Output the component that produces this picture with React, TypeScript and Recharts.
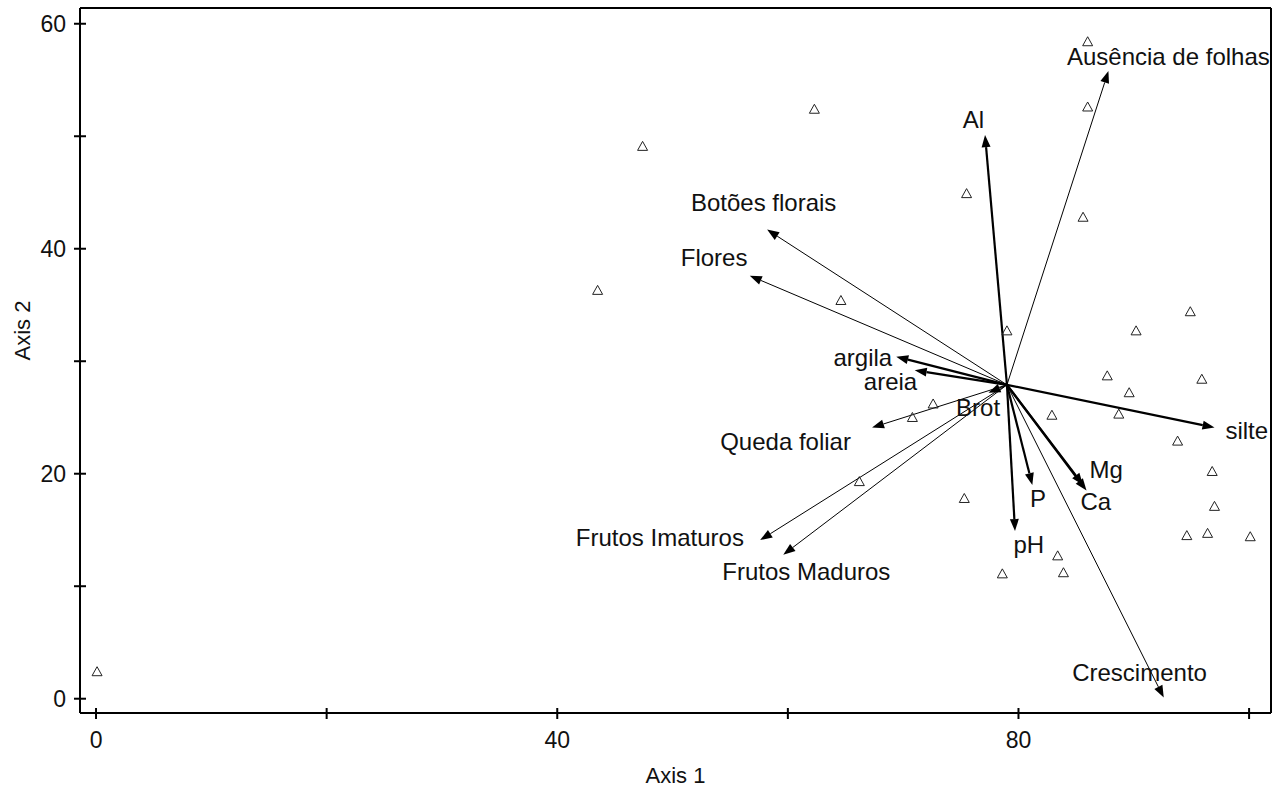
import { ScatterChart, Scatter, XAxis, YAxis, ReferenceLine } from 'recharts';

// sample scores (triangles)
const siteX = [0.09, 47.4, 43.5, 62.3, 86.0, 86.0, 75.5, 85.6, 64.6, 79.0, 90.2, 94.9, 87.7, 89.6, 95.9,
  72.6, 70.8, 82.9, 88.7, 93.8, 96.8, 97.0, 94.6, 96.4, 100.1, 75.3, 66.2, 78.6, 83.4, 83.9];
const siteY = [2.4, 49.1, 36.3, 52.4, 58.4, 52.6, 44.9, 42.8, 35.4, 32.7, 32.7, 34.4, 28.7, 27.2, 28.4,
  26.2, 25.0, 25.2, 25.3, 22.9, 20.2, 17.1, 14.5, 14.7, 14.4, 17.8, 19.3, 11.1, 12.7, 11.2];

// biplot vectors
const vectorNames = ['Ausência de folhas', 'Al', 'Botões florais', 'Flores', 'argila', 'areia', 'Brot',
  'Queda foliar', 'Frutos Imaturos', 'Frutos Maduros', 'pH', 'P', 'Ca', 'Mg', 'silte', 'Crescimento'];
const vectorX = [87.8, 77.1, 58.2, 56.7, 69.4, 71.0, 77.4, 67.3, 57.6, 59.6, 79.7, 81.2, 85.9, 85.6, 97.0, 92.6];
const vectorY = [55.8, 50.1, 41.7, 37.6, 30.4, 29.2, 27.2, 24.1, 14.1, 12.8, 14.9, 19.0, 18.5, 19.0, 24.1, 0.1];
const labelX = [93.0, 76.1, 57.9, 53.6, 66.5, 68.9, 76.5, 59.8, 48.9, 61.6, 80.9, 81.7, 86.7, 87.6, 99.8, 90.5];
const labelY = [57.1, 51.5, 44.1, 39.2, 30.3, 28.2, 25.9, 22.9, 14.3, 11.3, 13.7, 17.8, 17.5, 20.4, 23.8, 2.3];
const soilVars = ['Al', 'argila', 'areia', 'pH', 'P', 'Ca', 'Mg', 'silte'];
const originX = 79.0;
const originY = 27.9;

const xTicks = [0, 20, 40, 60, 80, 100];
const xLabelled = [0, 40, 80];
const yTicks = [0, 10, 20, 30, 40, 50, 60];
const yLabelled = [0, 20, 40, 60];

const X_MIN = -1.39, X_MAX = 101.9;
const Y_MIN = -1.27, Y_MAX = 61.4;

const FONT = '"Liberation Sans", Arial, sans-serif';

const sites = siteX.map((x, i) => ({ x, y: siteY[i] }));
const labels = vectorNames.map((name, i) => ({ x: labelX[i], y: labelY[i], name }));

const XTick = (props: any) => {
  const { x, y, payload } = props;
  return (
    <g>
      <line x1={x} x2={x} y1={y - 5} y2={y + 6} stroke="#000" strokeWidth={2} />
      {xLabelled.includes(payload.value) && (
        <text x={x} y={y + 27} textAnchor="middle" dominantBaseline="central" fontSize={23} fontFamily={FONT} fill="#111">
          {payload.value}
        </text>
      )}
    </g>
  );
};

const YTick = (props: any) => {
  const { x, y, payload } = props;
  return (
    <g>
      <line x1={x - 6} x2={x + 6} y1={y} y2={y} stroke="#000" strokeWidth={2} />
      {yLabelled.includes(payload.value) && (
        <text x={x - 14} y={y} textAnchor="end" dominantBaseline="central" fontSize={23} fontFamily={FONT} fill="#111">
          {payload.value}
        </text>
      )}
    </g>
  );
};

const makeArrow = (bold: boolean) => (props: any) => {
  const { x1, y1, x2, y2 } = props;
  const a = Math.atan2(y2 - y1, x2 - x1);
  const len = 12, half = 4.5;
  const bx = x2 - len * Math.cos(a);
  const by = y2 - len * Math.sin(a);
  const p1 = `${bx + half * Math.sin(a)},${by - half * Math.cos(a)}`;
  const p2 = `${bx - half * Math.sin(a)},${by + half * Math.cos(a)}`;
  return (
    <g>
      <line x1={x1} y1={y1} x2={bx} y2={by} stroke="#000" strokeWidth={bold ? 2.2 : 1} />
      <polygon points={`${x2},${y2} ${p1} ${p2}`} fill="#000" />
    </g>
  );
};

const Triangle = (props: any) => {
  const { cx, cy } = props;
  return (
    <polygon
      points={`${cx},${cy - 5} ${cx + 5},${cy + 4} ${cx - 5},${cy + 4}`}
      fill="none"
      stroke="#222"
      strokeWidth={1}
    />
  );
};

const Label = (props: any) => {
  const { cx, cy, payload } = props;
  return (
    <text x={cx} y={cy} textAnchor="middle" dominantBaseline="central" fontSize={24} fontFamily={FONT} fill="#111">
      {payload.name}
    </text>
  );
};

export default function App() {
  return (
    <div style={{ position: 'absolute', left: 0, top: 0, width: 1282, height: 792, background: '#fff' }}>
      <ScatterChart width={1282} height={792} margin={{ top: 8, right: 11, bottom: 0, left: 0 }}>
        <XAxis
          type="number"
          dataKey="x"
          domain={[X_MIN, X_MAX]}
          allowDataOverflow
          ticks={xTicks}
          tick={<XTick />}
          tickLine={false}
          tickSize={0}
          tickMargin={0}
          axisLine={{ stroke: '#000', strokeWidth: 2 }}
          height={79}
          label={{ value: 'Axis 1', position: 'insideBottom', offset: 9, fontSize: 22, fontFamily: FONT, fill: '#111' }}
        />
        <YAxis
          type="number"
          dataKey="y"
          domain={[Y_MIN, Y_MAX]}
          allowDataOverflow
          ticks={yTicks}
          tick={<YTick />}
          tickLine={false}
          tickSize={0}
          tickMargin={0}
          axisLine={{ stroke: '#000', strokeWidth: 2 }}
          width={80}
          label={{ value: 'Axis 2', angle: -90, position: 'insideLeft', offset: 22, fontSize: 22, fontFamily: FONT, fill: '#111' }}
        />
        <ReferenceLine x={X_MAX} stroke="#000" strokeWidth={2} ifOverflow="visible" />
        <ReferenceLine y={Y_MAX} stroke="#000" strokeWidth={2} ifOverflow="visible" />
        {vectorNames.map((name, i) => (
          <ReferenceLine
            key={name}
            segment={[{ x: originX, y: originY }, { x: vectorX[i], y: vectorY[i] }]}
            ifOverflow="visible"
            shape={makeArrow(soilVars.includes(name))}
          />
        ))}
        <Scatter data={sites} shape={<Triangle />} isAnimationActive={false} />
        <Scatter data={labels} shape={<Label />} isAnimationActive={false} />
      </ScatterChart>
    </div>
  );
}
